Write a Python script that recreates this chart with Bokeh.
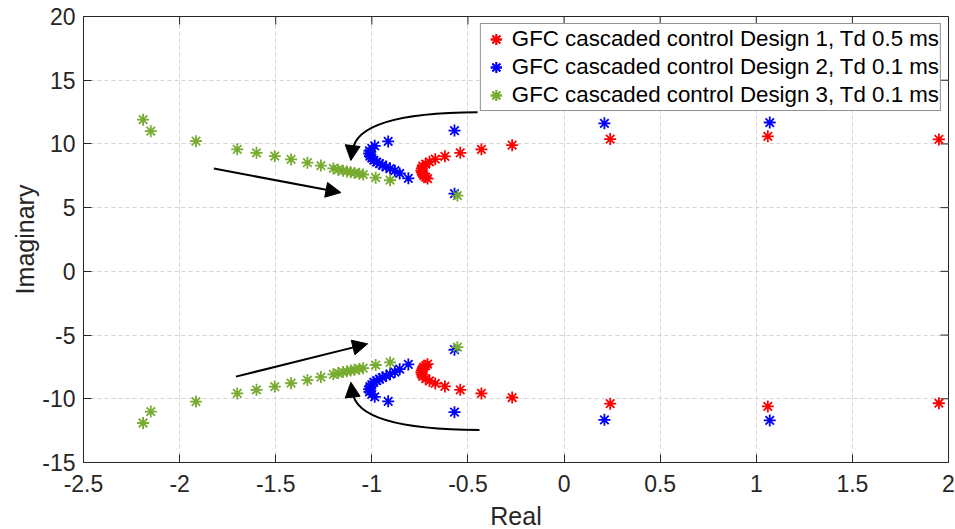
from bokeh.plotting import figure
from bokeh.models import Range1d, Legend, LegendItem, Arrow, NormalHead, FixedTicker
from bokeh.embed import file_html
from bokeh.resources import INLINE

# ---------------- data (poles) ----------------
d1_real_upper = [1.95, 1.06, 0.24, -0.27, -0.43, -0.54, -0.62, -0.67, -0.70, -0.72, -0.735,
                 -0.74, -0.742, -0.74, -0.735, -0.73, -0.72, -0.71]
d1_imag_upper = [10.35, 10.6, 10.38, 9.9, 9.58, 9.3, 9.03, 8.8, 8.6, 8.42, 8.25,
                 8.08, 7.92, 7.78, 7.65, 7.52, 7.4, 7.28]
d1_real_lower = [1.95, 1.06, 0.24, -0.27, -0.43, -0.54, -0.62, -0.67, -0.70, -0.72, -0.735,
                 -0.74, -0.742, -0.74, -0.735, -0.73, -0.72, -0.71]
d1_imag_lower = [-10.35, -10.6, -10.38, -9.9, -9.58, -9.3, -9.03, -8.8, -8.6, -8.42, -8.25,
                 -8.08, -7.92, -7.78, -7.65, -7.52, -7.4, -7.28]

d2_real_upper = [1.07, 0.21, -0.57, -0.57, -0.915, -0.985, -1.0, -1.012, -1.014, -1.01, -1.0,
                 -0.99, -0.975, -0.96, -0.945, -0.925, -0.905, -0.88, -0.855, -0.81]
d2_imag_upper = [11.68, 11.62, 11.05, 6.1, 10.2, 9.85, 9.65, 9.45, 9.25, 9.05, 8.88,
                 8.72, 8.58, 8.45, 8.33, 8.2, 8.07, 7.9, 7.68, 7.3]
d2_real_lower = [1.07, 0.21, -0.57, -0.57, -0.915, -0.985, -1.0, -1.012, -1.014, -1.01, -1.0,
                 -0.99, -0.975, -0.96, -0.945, -0.925, -0.905, -0.88, -0.855, -0.81]
d2_imag_lower = [-11.7, -11.65, -11.05, -6.15, -10.2, -9.85, -9.65, -9.45, -9.25, -9.05, -8.88,
                 -8.72, -8.58, -8.45, -8.33, -8.2, -8.07, -7.9, -7.68, -7.3]

d3_real_upper = [-2.19, -2.15, -1.915, -1.70, -1.60, -1.505, -1.42, -1.335, -1.265, -1.2,
                 -1.175, -1.15, -1.13, -1.11, -1.09, -1.065, -1.045, -0.98, -0.905, -0.555]
d3_imag_upper = [11.9, 11.0, 10.22, 9.58, 9.3, 9.04, 8.78, 8.53, 8.3, 8.08,
                 7.98, 7.9, 7.84, 7.78, 7.72, 7.66, 7.6, 7.35, 7.15, 5.95]
d3_real_lower = [-2.19, -2.15, -1.915, -1.70, -1.60, -1.505, -1.42, -1.335, -1.265, -1.2,
                 -1.175, -1.15, -1.13, -1.11, -1.09, -1.065, -1.045, -0.98, -0.905, -0.555]
d3_imag_lower = [-11.9, -11.0, -10.22, -9.58, -9.3, -9.04, -8.78, -8.53, -8.3, -8.08,
                 -7.98, -7.9, -7.84, -7.78, -7.72, -7.66, -7.6, -7.35, -7.15, -5.95]

series_labels = ["GFC cascaded control Design 1, Td 0.5 ms",
                 "GFC cascaded control Design 2, Td 0.1 ms",
                 "GFC cascaded control Design 3, Td 0.1 ms"]
series_colors = ["#FF0000", "#0000FF", "#77AC30"]

x_ticks = [-2.5, -2, -1.5, -1, -0.5, 0, 0.5, 1, 1.5, 2]
x_tick_labels = ["-2.5", "-2", "-1.5", "-1", "-0.5", "0", "0.5", "1", "1.5", "2"]
y_ticks = [-15, -10, -5, 0, 5, 10, 15, 20]
y_tick_labels = ["-15", "-10", "-5", "0", "5", "10", "15", "20"]

# annotation arrows (data coordinates)
straight_arrows = [(-1.822, 8.07, -1.161, 6.18), (-1.707, -8.26, -1.022, -5.69)]
curve_x0 = [-0.45, -0.44]
curve_y0 = [12.49, -12.44]
curve_cx = [-1.08, -1.08]
curve_cy = [12.45, -12.40]
curve_x1 = [-1.10, -1.10]
curve_y1 = [9.45, -9.45]
curve_heads = [(-1.101, 9.7, -1.109, 8.70), (-1.101, -9.7, -1.109, -8.70)]

X_MIN, X_MAX, Y_MIN, Y_MAX = -2.5, 2, -15, 20
FW, FH = 865, 446
TICK_PX = 8

FONT = "Liberation Sans"
TXT = "#262626"

p = figure(frame_width=FW, frame_height=FH, output_backend="svg", toolbar_location=None,
           x_range=Range1d(X_MIN, X_MAX), y_range=Range1d(Y_MIN, Y_MAX),
           min_border_left=83, min_border_right=7, min_border_top=16, min_border_bottom=67,
           background_fill_color="white", border_fill_color="white")
p.outline_line_color = TXT
p.outline_line_width = 1

for ax in (p.xaxis[0], p.yaxis[0]):
    ax.major_tick_in = TICK_PX
    ax.major_tick_out = 0
    ax.minor_tick_in = 0
    ax.minor_tick_out = 0
    ax.axis_line_color = TXT
    ax.major_tick_line_color = TXT
    ax.major_label_text_font = FONT
    ax.major_label_text_font_size = "23px"
    ax.major_label_text_color = TXT
    ax.axis_label_text_font = FONT
    ax.axis_label_text_font_size = "25px"
    ax.axis_label_text_font_style = "normal"
    ax.axis_label_text_color = TXT

p.xaxis.ticker = FixedTicker(ticks=x_ticks)
p.yaxis.ticker = FixedTicker(ticks=y_ticks)
p.xaxis.major_label_overrides = dict(zip(x_ticks, x_tick_labels))
p.yaxis.major_label_overrides = dict(zip(y_ticks, y_tick_labels))
p.xaxis.axis_label = "Real"
p.yaxis.axis_label = "Imaginary"
p.xaxis.major_label_standoff = 12
p.yaxis.major_label_standoff = 8
p.xaxis.axis_label_standoff = 7
p.yaxis.axis_label_standoff = 0

for g in (p.xgrid[0], p.ygrid[0]):
    g.grid_line_color = "#d4d4d4"
    g.grid_line_dash = "4 3"
    g.grid_line_width = 1
p.xgrid.ticker = FixedTicker(ticks=x_ticks)
p.ygrid.ticker = FixedTicker(ticks=y_ticks)

# inward ticks on the top and right frame edges (box on)
dx = TICK_PX * (X_MAX - X_MIN) / FW
dy = TICK_PX * (Y_MAX - Y_MIN) / FH
p.segment(x0=x_ticks, y0=[Y_MAX] * len(x_ticks), x1=x_ticks, y1=[Y_MAX - dy] * len(x_ticks),
          line_color=TXT, line_width=1)
p.segment(x0=[X_MAX] * len(y_ticks), y0=y_ticks, x1=[X_MAX - dx] * len(y_ticks), y1=y_ticks,
          line_color=TXT, line_width=1)

# annotation arrows
p.quadratic(x0=curve_x0, y0=curve_y0, x1=curve_x1, y1=curve_y1, cx=curve_cx, cy=curve_cy,
            line_color="black", line_width=2)
for (xs, ys, xe, ye) in curve_heads + straight_arrows:
    p.add_layout(Arrow(end=NormalHead(size=15, fill_color="black", line_color="black", line_width=1),
                       x_start=xs, y_start=ys, x_end=xe, y_end=ye,
                       line_color="black", line_width=2))

# poles
data = [
    (d1_real_upper, d1_imag_upper, d1_real_lower, d1_imag_lower),
    (d2_real_upper, d2_imag_upper, d2_real_lower, d2_imag_lower),
    (d3_real_upper, d3_imag_upper, d3_real_lower, d3_imag_lower),
]
items = []
for (xu, yu, xl, yl), lab, col in zip(data, series_labels, series_colors):
    r1 = p.scatter(xu, yu, marker="asterisk", size=12, line_color=col, line_width=1.8)
    r2 = p.scatter(xl, yl, marker="asterisk", size=12, line_color=col, line_width=1.8)
    items.append(LegendItem(label=lab, renderers=[r1, r2]))

legend = Legend(items=items, location="top_right")
legend.label_text_font = FONT
legend.label_text_font_size = "22.3px"
legend.label_text_color = "black"
legend.label_height = 28
legend.glyph_height = 28
legend.glyph_width = 28
legend.label_standoff = 2
legend.padding = 1
legend.spacing = 0
legend.margin = 7
legend.border_line_color = TXT
legend.border_line_width = 1
legend.background_fill_color = "white"
legend.background_fill_alpha = 1
p.add_layout(legend)

open("out.html", "w").write(file_html(p, INLINE))
